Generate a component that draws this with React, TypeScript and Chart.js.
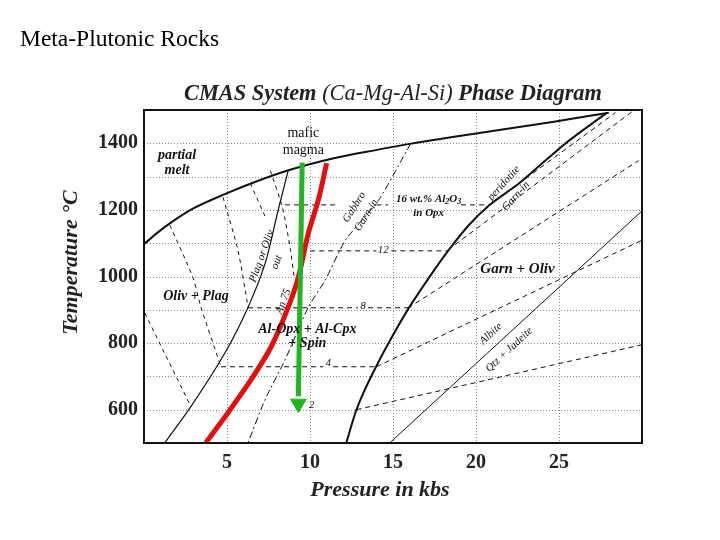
import React, { useEffect, useRef } from "react";
import { Chart, registerables } from "chart.js";

Chart.register(...registerables);

const SERIF = '"Liberation Serif", "Times New Roman", serif';

// ---- axes ----
const pressureMin = 0;
const pressureMax = 30;
const tempMin = 500;
const tempMax = 1500;
const pressureTicks = [5, 10, 15, 20, 25];
const tempTicks = [600, 800, 1000, 1200, 1400];
const tempGrid = [600, 700, 800, 900, 1000, 1100, 1200, 1300, 1400];

// ---- curves (pressure kbar, temperature °C) ----
const solidusP = [0, 0.8, 1.6, 3.0, 4.9, 6.8, 8.7, 11.5, 14.1, 16.1, 20.2, 24.6, 28.0];
const solidusT = [1097, 1131, 1161, 1205, 1248, 1286, 1319, 1356, 1381, 1399, 1431, 1464, 1492];

const periGarnInP = [27.9, 25.6, 24.2, 22.6, 20.8, 19.56, 18.35, 17.15, 15.95, 14.9, 14.1, 12.8, 12.19];
const periGarnInT = [1492, 1408, 1349, 1280, 1214, 1154, 1079, 995, 905, 815, 741, 600, 501];

const plagOutP = [8.69, 8.08, 7.3, 6.27, 4.88, 2.82, 1.26];
const plagOutT = [1319, 1199, 1040, 908, 771, 609, 501];

const gabbroGarnInP = [16.06, 14.13, 12.13, 10.92, 9.9, 8.5, 7.29, 6.27];
const gabbroGarnInT = [1399, 1229, 1109, 989, 908, 750, 630, 501];

const albiteP = [14.8, 30];
const albiteT = [500, 1197];

// Al2O3-in-Opx isopleths, garnet field
const iso16GarnP = [20.8, 28.4];
const iso16GarnT = [1214, 1492];
const iso12GarnP = [18.3, 29.4];
const iso12GarnT = [1079, 1495];
const iso8GarnP = [15.9, 29.8];
const iso8GarnT = [905, 1348];
const iso4GarnP = [14.0, 30];
const iso4GarnT = [729, 1109];
const iso2GarnP = [12.8, 30];
const iso2GarnT = [600, 795];

// Al2O3-in-Opx isopleths, spinel field (null = gap for label)
const iso16SpP = [8.5, 11.7, null, 14.0, 14.7, null, 19.1, 20.8];
const iso16SpT = [1215, 1215, null, 1215, 1215, null, 1215, 1215];
const iso12SpP = [9.47, 14.0, null, 14.9, 18.3];
const iso12SpT = [1077, 1077, null, 1077, 1077];
const iso8SpP = [6.27, 12.9, null, 13.5, 15.9];
const iso8SpT = [906, 906, null, 906, 906];
const iso4SpP = [4.64, 10.8, null, 11.4, 14.0];
const iso4SpT = [729, 729, null, 729, 729];

// short dashed lines in plagioclase field
const dashAP = [1.56, 2.94, 3.43, 4.64];
const dashAT = [1154, 998, 908, 729];
const dashBP = [0.05, 2.83];
const dashBT = [890, 609];
const dashCP = [4.76, 5.66, 6.27];
const dashCT = [1238, 1079, 908];
const dashDP = [6.4, 7.3];
const dashDT = [1280, 1180];
const an75P = [7.61, 8.33, 8.81, 9.05];
const an75T = [1318, 1210, 1085, 995];

// geotherm (red) and mafic magma path (green)
const geothermP = [11.0, 10.5, 9.9, 9.3, 8.69, 7.66, 6.45, 5.06, 3.73];
const geothermT = [1340, 1229, 1130, 998, 908, 789, 690, 591, 501];
const magmaP = [9.53, 9.3];
const magmaT = [1342, 640];
const arrowP = [9.3];
const arrowT = [618];

const pts = (P: (number | null)[], T: (number | null)[]) =>
  P.map((p, i) => ({ x: p === null ? NaN : p, y: T[i] === null ? NaN : (T[i] as number) }));

const DASH = [5, 4];
const line = (P: any[], T: any[], opts: any = {}) => ({
  data: pts(P, T),
  showLine: true,
  pointRadius: 0,
  borderColor: "#111",
  borderWidth: 1,
  tension: 0.3,
  fill: false,
  spanGaps: false,
  ...opts,
});

const datasets: any[] = [
  line(arrowP, arrowT, {
    showLine: false,
    pointRadius: 9,
    pointStyle: "triangle",
    rotation: 180,
    pointBackgroundColor: "#22b422",
    pointBorderColor: "#22b422",
  }),
  line(magmaP, magmaT, { borderColor: "#22b422", borderWidth: 5, tension: 0 }),
  line(geothermP, geothermT, { borderColor: "#e01010", borderWidth: 5 }),
  line(solidusP, solidusT, { borderWidth: 2, cubicInterpolationMode: "monotone" }),
  line(periGarnInP, periGarnInT, { borderWidth: 2, cubicInterpolationMode: "monotone" }),
  line(plagOutP, plagOutT, { borderWidth: 1.2 }),
  line(gabbroGarnInP, gabbroGarnInT, { borderDash: [7, 3, 2, 3], tension: 0.2 }),
  line(albiteP, albiteT, { tension: 0 }),
  line(iso16GarnP, iso16GarnT, { borderDash: DASH, tension: 0 }),
  line(iso12GarnP, iso12GarnT, { borderDash: DASH, tension: 0 }),
  line(iso8GarnP, iso8GarnT, { borderDash: DASH, tension: 0 }),
  line(iso4GarnP, iso4GarnT, { borderDash: DASH, tension: 0 }),
  line(iso2GarnP, iso2GarnT, { borderDash: DASH, tension: 0 }),
  line(iso16SpP, iso16SpT, { borderDash: DASH, tension: 0 }),
  line(iso12SpP, iso12SpT, { borderDash: DASH, tension: 0 }),
  line(iso8SpP, iso8SpT, { borderDash: DASH, tension: 0 }),
  line(iso4SpP, iso4SpT, { borderDash: DASH, tension: 0 }),
  line(dashAP, dashAT, { borderDash: [4, 4], tension: 0.2 }),
  line(dashBP, dashBT, { borderDash: [4, 4], tension: 0 }),
  line(dashCP, dashCT, { borderDash: [4, 4], tension: 0.2 }),
  line(dashDP, dashDT, { borderDash: [4, 4], tension: 0 }),
  line(an75P, an75T, { borderDash: [4, 4], tension: 0.2 }),
];

// ---- text annotations (data coords) ----
type Lab = { text: string; p: number; t: number; font: string; rot?: number; color?: string };
const BI = (s: number) => `italic bold ${s}px ${SERIF}`;
const I = (s: number) => `italic ${s}px ${SERIF}`;
const R = (s: number) => `${s}px ${SERIF}`;

const labels: Lab[] = [
  { text: "partial", p: 1.99, t: 1363, font: BI(14) },
  { text: "melt", p: 1.99, t: 1319, font: BI(14) },
  { text: "Oliv + Plag", p: 3.13, t: 941, font: BI(14) },
  { text: "Al-Opx + Al-Cpx", p: 9.84, t: 840, font: BI(14) },
  { text: "+ Spin", p: 9.84, t: 798, font: BI(14) },
  { text: "Garn + Oliv", p: 22.5, t: 1022, font: BI(15) },
  { text: "in Opx", p: 17.15, t: 1190, font: BI(11) },
  { text: "peridotite", p: 21.68, t: 1280, font: I(11), rot: -48 },
  { text: "Garn-in", p: 22.4, t: 1241, font: I(11), rot: -48 },
  { text: "Gabbro", p: 12.67, t: 1208, font: I(11), rot: -58 },
  { text: "Garn-in", p: 13.4, t: 1184, font: I(11), rot: -58 },
  { text: "Plag or Oliv", p: 7.1, t: 1061, font: I(11), rot: -70 },
  { text: "out", p: 8.0, t: 1043, font: I(11), rot: -70 },
  { text: "An 75", p: 8.4, t: 925, font: I(11), rot: -70 },
  { text: "Albite", p: 20.9, t: 828, font: I(11), rot: -43 },
  { text: "Qtz + Jadeite", p: 22.0, t: 780, font: I(11), rot: -43 },
  { text: "12", p: 14.42, t: 1079, font: I(11) },
  { text: "8", p: 13.2, t: 911, font: I(11) },
  { text: "4", p: 11.1, t: 741, font: I(11) },
  { text: "2", p: 10.1, t: 615, font: I(11) },
  { text: "mafic", p: 9.6, t: 1429, font: R(14) },
  { text: "magma", p: 9.6, t: 1378, font: R(14) },
];

const decor = {
  id: "decor",
  beforeDatasetsDraw(chart: any) {
    const { ctx, chartArea: a, scales } = chart;
    const x = scales.x, y = scales.y;
    ctx.save();
    ctx.strokeStyle = "#8a8a8a";
    ctx.lineWidth = 1;
    ctx.setLineDash([1, 2]);
    for (const p of pressureTicks) {
      const px = Math.round(x.getPixelForValue(p)) + 0.5;
      ctx.beginPath();
      ctx.moveTo(px, a.top);
      ctx.lineTo(px, a.bottom);
      ctx.stroke();
    }
    for (const t of tempGrid) {
      const py = Math.round(y.getPixelForValue(t)) + 0.5;
      ctx.beginPath();
      ctx.moveTo(a.left, py);
      ctx.lineTo(a.right, py);
      ctx.stroke();
    }
    ctx.restore();
  },
  afterDatasetsDraw(chart: any) {
    const { ctx, chartArea: a, scales } = chart;
    const x = scales.x, y = scales.y;
    ctx.save();
    ctx.fillStyle = "#111";
    ctx.textAlign = "center";
    ctx.textBaseline = "middle";
    for (const l of labels) {
      const px = x.getPixelForValue(l.p);
      const py = y.getPixelForValue(l.t);
      ctx.save();
      ctx.translate(px, py);
      if (l.rot) ctx.rotate((l.rot * Math.PI) / 180);
      ctx.font = l.font;
      ctx.fillStyle = l.color || "#111";
      ctx.fillText(l.text, 0, 0);
      ctx.restore();
    }
    // "16 wt.% Al2O3" with subscripts
    {
      const px = x.getPixelForValue(17.15);
      const py = y.getPixelForValue(1232);
      const big = BI(11), small = BI(8);
      const parts: [string, string, number][] = [
        ["16 wt.% Al", big, 0],
        ["2", small, 3],
        ["O", big, 0],
        ["3", small, 3],
      ];
      let w = 0;
      for (const [s, f] of parts) { ctx.font = f; w += ctx.measureText(s).width; }
      let cx = px - w / 2;
      ctx.textAlign = "left";
      for (const [s, f, dy] of parts) {
        ctx.font = f;
        ctx.fillText(s, cx, py + dy);
        cx += ctx.measureText(s).width;
      }
    }
    // frame
    ctx.strokeStyle = "#111";
    ctx.lineWidth = 2;
    ctx.setLineDash([]);
    ctx.strokeRect(a.left, a.top, a.right - a.left, a.bottom - a.top);
    ctx.restore();
  },
  afterDraw(chart: any) {
    const { ctx, chartArea: a } = chart;
    ctx.save();
    ctx.fillStyle = "#000";
    ctx.textBaseline = "alphabetic";
    ctx.textAlign = "left";
    ctx.font = R(23.5);
    ctx.fillText("Meta-Plutonic Rocks", 20, 46);

    // chart title (mixed styles)
    const parts: [string, string][] = [
      ["CMAS System ", BI(22.4)],
      ["(Ca-Mg-Al-Si)", I(22.4)],
      [" Phase Diagram", BI(22.4)],
    ];
    let w = 0;
    for (const [s, f] of parts) { ctx.font = f; w += ctx.measureText(s).width; }
    let cx = (a.left + a.right) / 2 - w / 2;
    ctx.fillStyle = "#222";
    for (const [s, f] of parts) {
      ctx.font = f;
      ctx.fillText(s, cx, a.top - 10);
      cx += ctx.measureText(s).width;
    }

    // axis titles
    ctx.textAlign = "center";
    ctx.textBaseline = "middle";
    ctx.font = BI(22);
    ctx.fillText("Pressure in kbs", (a.left + a.right) / 2 - 13, a.bottom + 47);
    ctx.save();
    ctx.translate(a.left - 73, (a.top + a.bottom) / 2 - 14);
    ctx.rotate(-Math.PI / 2);
    ctx.font = BI(22);
    ctx.fillText("Temperature °C", 0, 0);
    ctx.restore();
    ctx.restore();
  },
};

export default function App() {
  const ref = useRef<HTMLCanvasElement>(null);
  useEffect(() => {
    const canvas = ref.current as HTMLCanvasElement;
    const chart = new Chart(canvas, {
      type: "scatter",
      data: { datasets },
      options: {
        responsive: false,
        maintainAspectRatio: false,
        animation: false,
        devicePixelRatio: 1,
        layout: { padding: { top: 110, right: 78, left: 0, bottom: 0 } },
        plugins: { legend: { display: false }, tooltip: { enabled: false }, title: { display: false } },
        scales: {
          x: {
            type: "linear",
            min: pressureMin,
            max: pressureMax,
            afterFit: (s: any) => { s.height = 97; },
            afterBuildTicks: (s: any) => {
              s.ticks = [pressureMin, ...pressureTicks, pressureMax].map((v) => ({ value: v }));
            },
            ticks: {
              autoSkip: false,
              maxRotation: 0,
              padding: 8,
              color: "#222",
              font: { family: SERIF, size: 20, weight: "bold" },
              callback: (v: any) => (pressureTicks.includes(Number(v)) ? String(v) : ""),
            },
            grid: { display: false, drawTicks: false },
            border: { display: false },
          },
          y: {
            type: "linear",
            min: tempMin,
            max: tempMax,
            afterFit: (s: any) => { s.width = 144; },
            afterBuildTicks: (s: any) => {
              s.ticks = [tempMin, ...tempTicks, tempMax].map((v) => ({ value: v }));
            },
            ticks: {
              autoSkip: false,
              padding: 6,
              color: "#222",
              font: { family: SERIF, size: 20, weight: "bold" },
              callback: (v: any) => (tempTicks.includes(Number(v)) ? String(v) : ""),
            },
            grid: { display: false, drawTicks: false },
            border: { display: false },
          },
        },
      } as any,
      plugins: [decor],
    });
    return () => chart.destroy();
  }, []);
  return (
    <div style={{ position: "absolute", left: 0, top: 0, width: 720, height: 540, background: "#fff" }}>
      <canvas ref={ref} width={720} height={540} style={{ display: "block", width: 720, height: 540 }} />
    </div>
  );
}
